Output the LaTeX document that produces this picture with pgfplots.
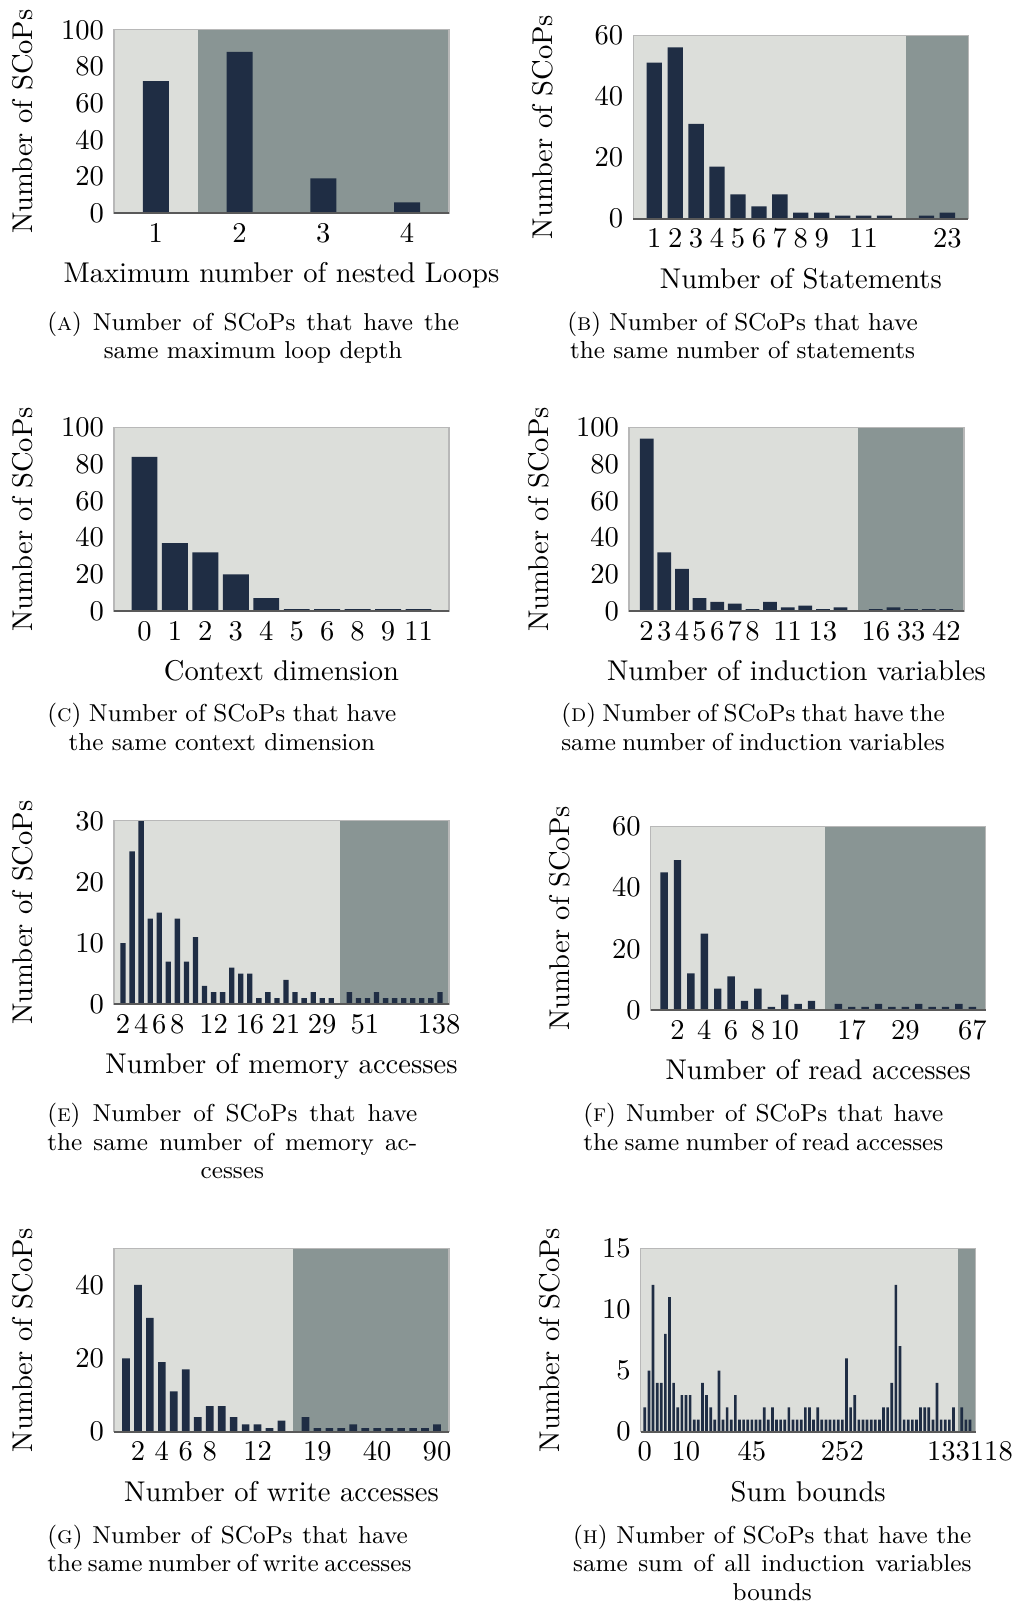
\documentclass[border=0pt]{standalone}
\usepackage{pgfplots}
\pgfplotsset{compat=1.18}
\definecolor{barc}{RGB}{31,45,68}
\definecolor{lightbg}{RGB}{220,222,218}
\definecolor{darkbg}{RGB}{137,149,148}
\newcommand{\capfont}{\fontsize{8.57pt}{9.9pt}\selectfont}
\pgfplotsset{
 panel/.style={
  scale only axis, width=117.25pt, height=64.225pt,
  ymin=0, axis on top, anchor=south west,
  axis line style={draw=black!28, line width=0.4pt},
  tick style={draw=none},
  extra y ticks={0}, extra y tick labels={},
  extra y tick style={grid=major, major grid style={draw=black!65, line width=0.6pt}},
  xticklabel style={anchor=base, yshift=-10.15pt},
  every axis x label/.style={at={(axis description cs:0.5,0)}, anchor=base, yshift=-24.3pt},
  every axis y label/.style={at={(axis description cs:-0.2418,0.5)}, rotate=90, anchor=base},
  ylabel={Number of SCoPs},
  xtick=data,
 },
 bars/.style={ybar, bar width=#1, fill=barc, draw=none},
 bgl/.style={fill=lightbg, draw=none, forget plot},
 bgd/.style={fill=darkbg, draw=none, forget plot},
}
\begin{document}
\begin{tikzpicture}
\useasboundingbox (0,0) rectangle (356.65pt,-562.45pt);

% (A)
\begin{axis}[panel, at={(39.9pt,-74.66pt)}, xmin=0.5, xmax=4.5, ymax=100,
  ytick={0,20,40,60,80,100}, xtick={1,2,3,4},
  xlabel={Maximum number of nested Loops}]
\addplot[bgl] coordinates {(0.5,0) (1.5,0) (1.5,100) (0.5,100)} -- cycle;
\addplot[bgd] coordinates {(1.5,0) (4.5,0) (4.5,100) (1.5,100)} -- cycle;
\addplot[bars=0.31] coordinates {(1,72) (2,88) (3,19) (4,6)};
\end{axis}

% (B)
\begin{axis}[panel, at={(221.66pt,-76.55pt)}, xmin=-1, xmax=15, ymax=60,
  ytick={0,20,40,60}, xtick={0,1,2,3,4,5,6,7,8,10,14},
  xticklabels={1,2,3,4,5,6,7,8,9,11,23},
  xlabel={Number of Statements}]
\addplot[bgl] coordinates {(-1,0) (12,0) (12,60) (-1,60)} -- cycle;
\addplot[bgd] coordinates {(12,0) (15,0) (15,60) (12,60)} -- cycle;
\addplot[bars=0.73] coordinates {(0,51) (1,56) (2,31) (3,17) (4,8) (5,4) (6,8) (7,2) (8,2) (9,1) (10,1) (11,1) (13,1) (14,2)};
\end{axis}

% (C)
\begin{axis}[panel, at={(39.9pt,-213.85pt)}, xmin=-1, xmax=10, ymax=100,
  ytick={0,20,40,60,80,100}, xtick={0,...,9},
  xticklabels={0,1,2,3,4,5,6,8,9,11},
  xlabel={Context dimension}]
\addplot[bgl] coordinates {(-1,0) (10,0) (10,100) (-1,100)} -- cycle;
\addplot[bars=0.85] coordinates {(0,84) (1,37) (2,32) (3,20) (4,7) (5,1) (6,1) (7,1) (8,1) (9,1)};
\end{axis}

% (D)
\begin{axis}[panel, at={(220.15pt,-213.85pt)}, xmin=-1, xmax=18, ymax=100,
  ytick={0,20,40,60,80,100}, xtick={0,1,2,3,4,5,6,8,10,13,15,17},
  xticklabels={2,3,4,5,6,7,8,11,13,16,33,42},
  xlabel={Number of induction variables}]
\addplot[bgl] coordinates {(-1,0) (12,0) (12,100) (-1,100)} -- cycle;
\addplot[bgd] coordinates {(12,0) (18,0) (18,100) (12,100)} -- cycle;
\addplot[bars=0.78] coordinates {(0,94) (1,32) (2,23) (3,7) (4,5) (5,4) (6,1) (7,5) (8,2) (9,3) (10,1) (11,2) (13,1) (14,2) (15,1) (16,1) (17,1)};
\end{axis}

% (E)
\begin{axis}[panel, at={(39.9pt,-351.51pt)}, xmin=-1, xmax=36, ymax=30,
  ytick={0,10,20,30}, xtick={0,2,4,6,10,14,18,22,26.7,34.9},
  xticklabels={2,4,6,8,12,16,21,29,51,138},
  xlabel={Number of memory accesses}]
\addplot[bgl] coordinates {(-1,0) (24,0) (24,30) (-1,30)} -- cycle;
\addplot[bgd] coordinates {(24,0) (36,0) (36,30) (24,30)} -- cycle;
\addplot[bars=0.59] coordinates {(0,10) (1,25) (2,30) (3,14) (4,15) (5,7) (6,14) (7,7) (8,11) (9,3) (10,2) (11,2) (12,6) (13,5) (14,5) (15,1) (16,2) (17,1) (18,4) (19,2) (20,1) (21,2) (22,1) (23,1) (25,2) (26,1) (27,1) (28,2) (29,1) (30,1) (31,1) (32,1) (33,1) (34,1) (35,2)};
\end{axis}

% (F)
\begin{axis}[panel, at={(227.75pt,-353.5pt)}, xmin=-1, xmax=24, ymax=60,
  ytick={0,20,40,60}, xtick={1,3,5,7,9,14,18,23},
  xticklabels={2,4,6,8,10,17,29,67},
  xlabel={Number of read accesses}]
\addplot[bgl] coordinates {(-1,0) (12,0) (12,60) (-1,60)} -- cycle;
\addplot[bgd] coordinates {(12,0) (24,0) (24,60) (12,60)} -- cycle;
\addplot[bars=0.55] coordinates {(0,45) (1,49) (2,12) (3,25) (4,7) (5,11) (6,3) (7,7) (8,1) (9,5) (10,2) (11,3) (13,2) (14,1) (15,1) (16,2) (17,1) (18,1) (19,2) (20,1) (21,1) (22,2) (23,1)};
\end{axis}

% (G)
\begin{axis}[panel, at={(39.9pt,-501.1pt)}, xmin=-1, xmax=27, ymax=50,
  ytick={0,20,40}, xtick={1,3,5,7,11,16,21,26},
  xticklabels={2,4,6,8,12,19,40,90},
  xlabel={Number of write accesses}]
\addplot[bgl] coordinates {(-1,0) (14,0) (14,50) (-1,50)} -- cycle;
\addplot[bgd] coordinates {(14,0) (27,0) (27,50) (14,50)} -- cycle;
\addplot[bars=0.64] coordinates {(0,20) (1,40) (2,31) (3,19) (4,11) (5,17) (6,4) (7,7) (8,7) (9,4) (10,2) (11,2) (12,1) (13,3) (15,4) (16,1) (17,1) (18,1) (19,2) (20,1) (21,1) (22,1) (23,1) (24,1) (25,1) (26,2)};
\end{axis}

% (H)
\begin{axis}[panel, at={(224.25pt,-501.1pt)}, xmin=-1, xmax=80.4, ymax=15,
  ytick={0,5,10,15}, xtick={0,10,26,48,79},
  xticklabels={0,10,45,252,133118},
  xlabel={Sum bounds}]
\addplot[bgl] coordinates {(-1,0) (76,0) (76,15) (-1,15)} -- cycle;
\addplot[bgd] coordinates {(76,0) (80.4,0) (80.4,15) (76,15)} -- cycle;
\addplot[bars=0.65] coordinates {(0,2) (1,5) (2,12) (3,4) (4,4) (5,8) (6,11) (7,4) (8,2) (9,3) (10,3) (11,3) (12,1) (13,1) (14,4) (15,3) (16,2) (17,1) (18,5) (19,1) (20,2) (21,1) (22,3) (23,1) (24,1) (25,1) (26,1) (27,1) (28,1) (29,2) (30,1) (31,2) (32,1) (33,1) (34,1) (35,2) (36,1) (37,1) (38,1) (39,2) (40,2) (41,1) (42,2) (43,1) (44,1) (45,1) (46,1) (47,1) (48,1) (49,6) (50,2) (51,3) (52,1) (53,1) (54,1) (55,1) (56,1) (57,1) (58,2) (59,2) (60,4) (61,12) (62,7) (63,1) (64,1) (65,1) (66,1) (67,2) (68,2) (69,2) (70,1) (71,4) (72,1) (73,1) (74,1) (75,2) (77,2) (78,1) (79,1)};
\end{axis}

% captions
\begin{scope}[every node/.style={anchor=base west, inner sep=0pt, font=\capfont}]
\node at (16.35pt,-115.5pt) {\makebox[144.1pt][s]{(\textsc{a}) Number of SCoPs that have the}};
\node at (16.35pt,-125.4pt) {\makebox[144.1pt][c]{same maximum loop depth}};
\node at (198.35pt,-115.5pt) {\makebox[122.7pt][s]{(\textsc{b}) Number of SCoPs that have}};
\node at (198.35pt,-125.4pt) {\makebox[122.7pt][c]{the same number of statements}};
\node at (16.35pt,-252.6pt) {\makebox[122.15pt][s]{(\textsc{c}) Number of SCoPs that have}};
\node at (16.35pt,-262.5pt) {\makebox[122.15pt][c]{the same context dimension}};
\node at (196.25pt,-252.6pt) {\makebox[134.2pt][s]{(\textsc{d}) Number of SCoPs that have the}};
\node at (196.25pt,-262.5pt) {\makebox[134.2pt][s]{same number of induction variables}};
\node at (16.35pt,-392.6pt) {\makebox[129.5pt][s]{(\textsc{e}) Number of SCoPs that have}};
\node at (16.35pt,-402.5pt) {\makebox[129.5pt][s]{the same number of memory ac-}};
\node at (16.35pt,-412.4pt) {\makebox[129.5pt][c]{cesses}};
\node at (203.95pt,-392.6pt) {\makebox[126pt][s]{(\textsc{f}) Number of SCoPs that have}};
\node at (203.95pt,-402.5pt) {\makebox[126pt][s]{the same number of read accesses}};
\node at (16.35pt,-540.2pt) {\makebox[126.2pt][s]{(\textsc{g}) Number of SCoPs that have}};
\node at (16.35pt,-550.1pt) {\makebox[126.2pt][s]{the same number of write accesses}};
\node at (200.4pt,-540.2pt) {\makebox[139.4pt][s]{(\textsc{h}) Number of SCoPs that have the}};
\node at (200.4pt,-550.1pt) {\makebox[139.4pt][s]{same sum of all induction variables}};
\node at (200.4pt,-560.0pt) {\makebox[139.4pt][c]{bounds}};
\end{scope}
\end{tikzpicture}
\end{document}
